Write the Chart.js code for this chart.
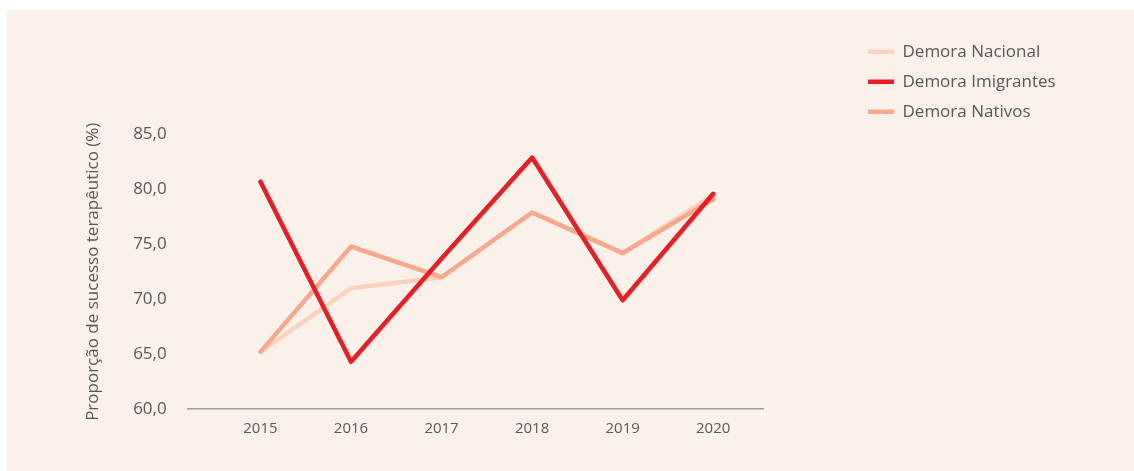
<!DOCTYPE html>
<html>
<head>
<meta charset="utf-8">
<script src="https://cdn.jsdelivr.net/npm/chart.js@4.4.0/dist/chart.umd.min.js"></script>
<style>
  html, body { margin: 0; padding: 0; background: #ffffff; }
  #panel { position: absolute; left: 7px; top: 10px; width: 1127px; height: 461px; background: #fbf1eb; }
  canvas { display: block; }
</style>
</head>
<body>
<div id="panel"><canvas id="c" width="1127" height="461"></canvas></div>
<script>
const years = [2015, 2016, 2017, 2018, 2019, 2020];
const demoraNacional = [65.2, 71.0, 72.0, 77.9, 74.2, 79.5];
const demoraImigrantes = [80.7, 64.3, 73.7, 82.9, 69.9, 79.6];
const demoraNativos = [65.2, 74.8, 72.0, 77.9, 74.2, 79.1];
const seriesNames = ['Demora Nacional', 'Demora Imigrantes', 'Demora Nativos'];
const yTitle = 'Proporção de sucesso terapêutico (%)';

const toPoints = arr => years.map((yr, i) => ({ x: yr, y: arr[i] }));
const FONT = "'Open Sans', 'Noto Sans', sans-serif";
const TXT = '#585858';

function ds(label, arr, color, order) {
  return {
    label, data: toPoints(arr), borderColor: color, backgroundColor: color,
    borderWidth: 4.5, pointRadius: 0, pointHoverRadius: 0,
    borderCapStyle: 'round', borderJoinStyle: 'round', tension: 0, order,
    fill: false
  };
}

const legendPos = {
  id: 'legendPos',
  afterUpdate(chart) {
    const lg = chart.legend;
    if (lg) {
      lg.left = 848;
      lg.top = 20.2;
      lg.width = 270;
      lg.height = 130;
      lg.right = lg.left + lg.width;
      lg.bottom = lg.top + lg.height;
    }
  }
};

new Chart(document.getElementById('c'), {
  type: 'line',
  data: {
    datasets: [
      ds(seriesNames[0], demoraNacional, '#fdd3c0', 2),
      ds(seriesNames[1], demoraImigrantes, '#ed1c24', 0),
      ds(seriesNames[2], demoraNativos, '#f8a98d', 1)
    ]
  },
  options: {
    responsive: false,
    animation: false,
    events: [],
    layout: { padding: { left: 75.5, top: 124.5, right: 371, bottom: 22 } },
    plugins: {
      tooltip: { enabled: false },
      legend: {
        position: 'chartArea',
        align: 'start',
        labels: {
          usePointStyle: true,
          pointStyle: 'line',
          pointStyleWidth: 26,
          padding: 13,
          color: TXT,
          font: { family: FONT, size: 17 },
          sort: (a, b) => a.datasetIndex - b.datasetIndex
        }
      }
    },
    scales: {
      x: {
        type: 'linear',
        min: 2014.2,
        max: 2020.55,
        grid: { display: false, drawTicks: false },
        border: { display: true, color: '#a19c9a', width: 1.5 },
        ticks: {
          stepSize: 1,
          includeBounds: false,
          padding: 11,
          color: TXT,
          font: { family: FONT, size: 15 },
          callback: v => String(v)
        },
        afterFit(scale) { scale.height = 40; }
      },
      y: {
        min: 60,
        max: 85,
        grid: { display: false, drawTicks: false },
        border: { display: false },
        ticks: {
          stepSize: 5,
          padding: 21.3,
          color: TXT,
          font: { family: FONT, size: 17 },
          callback: v => Number(v).toFixed(1).replace('.', ',')
        },
        title: {
          display: true,
          text: yTitle,
          color: TXT,
          padding: 0,
          font: { family: FONT, size: 17 }
        },
        afterFit(scale) { scale.width = 105.5; }
      }
    }
  },
  plugins: [legendPos]
});
</script>
</body>
</html>
